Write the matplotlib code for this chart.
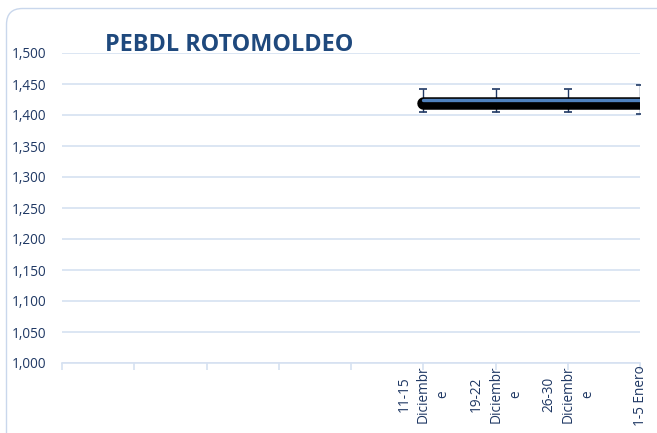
import matplotlib
matplotlib.use("Agg")
import matplotlib.pyplot as plt
import matplotlib.patheffects as pe
from matplotlib.patches import FancyBboxPatch
import numpy as np

categories = ["", "", "", "", "", "11-15\nDiciembr\ne", "19-22\nDiciembr\ne", "26-30\nDiciembr\ne", "1-5 Enero"]
values = [np.nan, np.nan, np.nan, np.nan, np.nan, 1424, 1424, 1424, 1424]
err_high = [np.nan, np.nan, np.nan, np.nan, np.nan, 1442, 1442, 1442, 1448]
err_low = [np.nan, np.nan, np.nan, np.nan, np.nan, 1405, 1405, 1405, 1402]
yticks = [1000, 1050, 1100, 1150, 1200, 1250, 1300, 1350, 1400, 1450, 1500]

W, H = 657, 433
fig = plt.figure(figsize=(W / 100, H / 100), dpi=100)
fig.patch.set_facecolor("white")

# chart border drawn in pixel coordinates on a background axes
bg = fig.add_axes([0, 0, 1, 1], zorder=-1)
bg.set_xlim(0, W)
bg.set_ylim(H, 0)
bg.axis("off")
bg.add_patch(FancyBboxPatch((6.5, 8.5), 700, 500,
                            boxstyle="round,pad=0,rounding_size=16",
                            facecolor="white", edgecolor="#C9D7EC", linewidth=1.0))

ax = fig.add_axes([62 / W, 1 - 363 / H, (640 - 62) / W, (363 - 53) / H])
ax.set_facecolor("none")
x = np.arange(len(categories))
ax.set_xlim(0, len(categories) - 1)
ax.set_ylim(1000, 1500)

grid_c = "#D6E1F1"
text_c = "#1F3864"
for s in ["top", "right", "left"]:
    ax.spines[s].set_visible(False)
ax.spines["bottom"].set_color(grid_c)
ax.spines["bottom"].set_linewidth(1.2)
ax.set_yticks(yticks)
ax.set_yticklabels([f"{v:,}" for v in yticks])
ax.yaxis.grid(True, color=grid_c, linewidth=1.2)
ax.set_axisbelow(True)
ax.tick_params(axis="y", length=0, pad=11, labelsize=9.8, labelcolor=text_c)
ax.set_xticks(x)
ax.set_xticklabels([])
ax.tick_params(axis="x", length=5, color=grid_c, width=1.2)

for xi, lab in zip(x, categories):
    if lab:
        ax.text(xi + 0.005, -0.008, lab, transform=ax.get_xaxis_transform(),
                rotation=90, ha="center", va="top", multialignment="center",
                fontsize=9.8, color=text_c, linespacing=1.4,
                family=["Open Sans", "DejaVu Sans"])

vals = np.array(values, dtype=float)
hi = np.array(err_high, dtype=float)
lo = np.array(err_low, dtype=float)
ax.errorbar(x, vals, yerr=[vals - lo, hi - vals], fmt="none",
            ecolor=text_c, elinewidth=1.0, capsize=3.2, capthick=1.2, zorder=2)
ax.plot(x, vals, color="#4F81BD", linewidth=2.4, solid_capstyle="round", zorder=3,
        clip_on=True,
        path_effects=[pe.Stroke(linewidth=9, foreground="black", offset=(0, -2.3)),
                      pe.Normal()])

for lab in ax.get_yticklabels():
    lab.set_family(["Open Sans", "DejaVu Sans"])

fig.text(105 / W, 1 - 45 / H, "PEBDL ROTOMOLDEO", fontsize=16.8, fontweight="bold",
         color="#1F497D", ha="left", va="center", family=["Open Sans", "DejaVu Sans"])

fig.savefig("out.png", dpi=100)
